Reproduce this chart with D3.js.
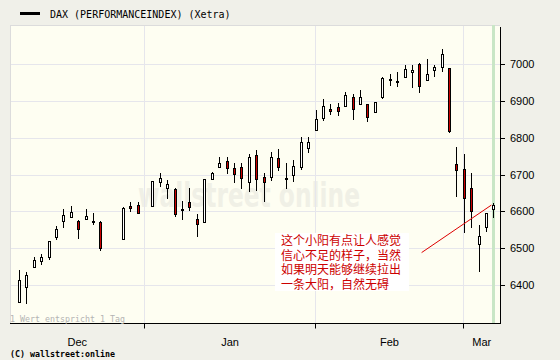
<!DOCTYPE html>
<html>
<head>
<meta charset="utf-8">
<script src="https://cdn.jsdelivr.net/npm/d3@7"></script>
<style>
  body { margin: 0; background: #f0f0e9; }
</style>
</head>
<body>
<div id="container"></div>
<script>
const dates = [
  "2006-12-07", "2006-12-08", "2006-12-11", "2006-12-12", "2006-12-13", "2006-12-14", "2006-12-15",
  "2006-12-18", "2006-12-19", "2006-12-20", "2006-12-21", "2006-12-22", "2006-12-27", "2006-12-28", "2006-12-29",
  "2007-01-02", "2007-01-03", "2007-01-04", "2007-01-05", "2007-01-08", "2007-01-09", "2007-01-10", "2007-01-11",
  "2007-01-12", "2007-01-15", "2007-01-16", "2007-01-17", "2007-01-18", "2007-01-19", "2007-01-22", "2007-01-23",
  "2007-01-24", "2007-01-25", "2007-01-26", "2007-01-29", "2007-01-30", "2007-01-31",
  "2007-02-01", "2007-02-02", "2007-02-05", "2007-02-06", "2007-02-07", "2007-02-08", "2007-02-09", "2007-02-12",
  "2007-02-13", "2007-02-14", "2007-02-15", "2007-02-16", "2007-02-19", "2007-02-20", "2007-02-21", "2007-02-22",
  "2007-02-23", "2007-02-26", "2007-02-27", "2007-02-28",
  "2007-03-01", "2007-03-02", "2007-03-05", "2007-03-06", "2007-03-07"
]
const open = [
  6355, 6394, 6448, 6464, 6477, 6530, 6573, 6585, 6574, 6578, 6573, 6571, 6524, 6614, 6616,
  6615, 6680, 6663, 6660, 6605, 6625, 6579, 6570, 6689, 6720, 6736, 6717, 6720, 6679, 6753, 6692,
  6692, 6744, 6690, 6700, 6720, 6771,
  6821, 6853, 6878, 6882, 6886, 6910, 6891, 6891, 6869, 6910, 6958, 6955, 6966, 6978, 7000, 6957,
  6985, 6991, 6988, 6729,
  6714, 6663, 6511, 6557, 6606
]
const high = [
  6441, 6435, 6477, 6484, 6520, 6560, 6606, 6615, 6577, 6606, 6596, 6574, 6611, 6626, 6626,
  6682, 6703, 6685, 6663, 6628, 6664, 6592, 6688, 6706, 6748, 6748, 6732, 6732, 6756, 6767, 6705,
  6761, 6770, 6730, 6739, 6802, 6803,
  6875, 6905, 6891, 6895, 6925, 6919, 6929, 6892, 6898, 6966, 6973, 6978, 6997, 6997, 7002, 7014,
  6997, 7041, 6989, 6774,
  6756, 6703, 6563, 6595, 6623
]
const low = [
  6353, 6349, 6445, 6455, 6469, 6521, 6556, 6582, 6524, 6577, 6562, 6493, 6523, 6599, 6594,
  6613, 6667, 6633, 6585, 6577, 6602, 6530, 6568, 6685, 6718, 6701, 6676, 6660, 6652, 6655, 6626,
  6682, 6710, 6660, 6680, 6711, 6758,
  6819, 6846, 6862, 6859, 6884, 6848, 6888, 6843, 6866, 6905, 6941, 6938, 6965, 6936, 6921, 6954,
  6964, 6979, 6814, 6640,
  6542, 6554, 6436, 6545, 6583
]
const close = [
  6414, 6426, 6468, 6475, 6519, 6551, 6589, 6597, 6551, 6587, 6573, 6501, 6608, 6610, 6595,
  6681, 6690, 6673, 6592, 6605, 6613, 6565, 6687, 6703, 6731, 6717, 6701, 6690, 6747, 6687, 6679,
  6747, 6720, 6690, 6724, 6787, 6787,
  6850, 6885, 6872, 6873, 6916, 6877, 6910, 6857, 6896, 6962, 6958, 6955, 6986, 6984, 6941, 6973,
  6991, 7027, 6819, 6712,
  6637, 6602, 6533, 6595, 6617
]
const yTicks = [6400, 6500, 6600, 6700, 6800, 6900, 7000]
const monthStarts = ["2007-01-01", "2007-02-01", "2007-03-01"]
const monthLabels = ["Dec", "Jan", "Feb", "Mar"]
// trend line, in weekday index / index points
const trendX = [37.24, 46.65]
const trendV = [6488, 6617]
const noteLines = [
  "这个小阳有点让人感觉",
  "信心不足的样子，当然",
  "如果明天能够继续拉出",
  "一条大阳，自然无碍"
]

// weekdays counted from Mon 2007-01-01 (holidays keep their slot)
function weekdayIndex (s) {
  const days = Math.round((new Date(s + "T00:00:00Z") - Date.UTC(2007, 0, 1)) / 864e5)
  const weeks = Math.floor(days / 7)
  return weeks * 5 + Math.min(days - weeks * 7, 5)
}

const plotLeft = 10, plotRight = 500, plotTop = 25, plotBottom = 323.5

const x = d3.scaleLinear().domain([-18.27, 47.81]).range([plotLeft, plotRight])
const y = d3.scaleLinear().domain([6400, 7000]).range([285, 64])

const svg = d3.select('#container').append('svg')
  .attr('width', 560)
  .attr('height', 360)
  .style('display', 'block')
  .style('background', '#f0f0e9')

svg.append('rect')
  .attr('x', plotLeft).attr('y', plotTop)
  .attr('width', plotRight - plotLeft).attr('height', plotBottom - plotTop)
  .attr('fill', '#fefef2')

// watermark
svg.append('text')
  .attr('x', 138).attr('y', 207)
  .attr('font-family', 'DejaVu Sans')
  .attr('font-weight', 'bold')
  .attr('font-size', 34)
  .attr('textLength', 222)
  .attr('lengthAdjust', 'spacingAndGlyphs')
  .attr('fill', '#f0f0e6')
  .text('wallstreet online')

// grid
svg.selectAll('.hgrid')
  .data(yTicks)
  .enter()
  .append('line')
  .attr('x1', plotLeft).attr('x2', plotRight)
  .attr('y1', d => Math.round(y(d)) + 0.5)
  .attr('y2', d => Math.round(y(d)) + 0.5)
  .attr('stroke', '#e6e6ec')

const monthX = monthStarts.map(d => Math.round(x(weekdayIndex(d) - 0.17)) + 0.5)

svg.selectAll('.vgrid')
  .data(monthX)
  .enter()
  .append('line')
  .attr('x1', d => d).attr('x2', d => d)
  .attr('y1', plotTop).attr('y2', plotBottom)
  .attr('stroke', '#e6e6ec')

svg.append('line')
  .attr('x1', plotLeft + 0.5).attr('x2', plotLeft + 0.5)
  .attr('y1', plotTop).attr('y2', plotBottom)
  .attr('stroke', '#dcdcdc')
svg.append('line')
  .attr('x1', plotLeft).attr('x2', plotRight)
  .attr('y1', plotTop + 0.5).attr('y2', plotTop + 0.5)
  .attr('stroke', '#dcdcdc')

// current day band
const lastX = x(weekdayIndex(dates[dates.length - 1]))
svg.append('rect')
  .attr('x', Math.floor(lastX) - 1).attr('y', plotTop)
  .attr('width', 3).attr('height', plotBottom - plotTop)
  .attr('fill', '#c9e6c6')

// candles
const candles = dates.map((d, i) => ({
  i: weekdayIndex(d), o: open[i], h: high[i], l: low[i], c: close[i]
}))

const g = svg.append('g')

g.selectAll('.wick')
  .data(candles)
  .enter()
  .append('line')
  .attr('x1', d => Math.floor(x(d.i)) + 0.5)
  .attr('x2', d => Math.floor(x(d.i)) + 0.5)
  .attr('y1', d => Math.round(y(d.h)))
  .attr('y2', d => Math.round(y(d.l)))
  .attr('stroke', '#000')

g.selectAll('.body')
  .data(candles)
  .enter()
  .append('rect')
  .attr('x', d => Math.floor(x(d.i)) - 0.5)
  .attr('width', 2)
  .attr('y', d => Math.round(y(Math.max(d.o, d.c))) + 0.5)
  .attr('height', d => Math.max(1, Math.round(y(Math.min(d.o, d.c))) - Math.round(y(Math.max(d.o, d.c)))))
  .attr('fill', d => d.c > d.o ? '#ffffff' : (d.c < d.o ? '#cc0000' : '#000'))
  .attr('stroke', '#000')

// trend line
svg.append('line')
  .attr('x1', x(trendX[0])).attr('y1', y(trendV[0]))
  .attr('x2', x(trendX[1])).attr('y2', y(trendV[1]))
  .attr('stroke', '#dd0000')
  .attr('stroke-width', 1)

// note
svg.append('rect')
  .attr('x', 275).attr('y', 233)
  .attr('width', 134).attr('height', 58)
  .attr('fill', '#ffffff')

svg.selectAll('.note')
  .data(noteLines)
  .enter()
  .append('text')
  .attr('x', 281)
  .attr('y', (d, i) => 245 + i * 14.5)
  .attr('font-family', 'Noto Sans CJK SC')
  .attr('font-size', 12)
  .attr('fill', '#cc0000')
  .text(d => d)

// axes
svg.append('line')
  .attr('x1', plotRight + 0.5).attr('x2', plotRight + 0.5)
  .attr('y1', 27).attr('y2', plotBottom + 0.5)
  .attr('stroke', '#000')
svg.append('line')
  .attr('x1', plotLeft).attr('x2', plotRight + 1)
  .attr('y1', plotBottom).attr('y2', plotBottom)
  .attr('stroke', '#000')

svg.selectAll('.ytick')
  .data(yTicks)
  .enter()
  .append('line')
  .attr('x1', plotRight).attr('x2', plotRight + 5)
  .attr('y1', d => Math.round(y(d)) + 0.5)
  .attr('y2', d => Math.round(y(d)) + 0.5)
  .attr('stroke', '#000')

svg.selectAll('.ylabel')
  .data(yTicks)
  .enter()
  .append('text')
  .attr('x', 510)
  .attr('y', d => y(d) + 4)
  .attr('font-family', 'Liberation Sans')
  .attr('font-size', 11)
  .attr('fill', '#000')
  .text(d => d)

svg.selectAll('.xtick')
  .data(monthX)
  .enter()
  .append('line')
  .attr('x1', d => d).attr('x2', d => d)
  .attr('y1', plotBottom).attr('y2', plotBottom + 5)
  .attr('stroke', '#000')

const edges = [plotLeft].concat(monthX).concat([plotRight])
svg.selectAll('.xlabel')
  .data(monthLabels)
  .enter()
  .append('text')
  .attr('x', (d, i) => (edges[i] + edges[i + 1]) / 2)
  .attr('y', 345.5)
  .attr('text-anchor', 'middle')
  .attr('font-family', 'Liberation Sans')
  .attr('font-size', 11)
  .attr('fill', '#000')
  .text(d => d)

// legend and footers
svg.append('rect')
  .attr('x', 20).attr('y', 12)
  .attr('width', 20).attr('height', 3)
  .attr('fill', '#000')
svg.append('text')
  .attr('x', 50).attr('y', 17.5)
  .attr('font-family', 'DejaVu Sans Mono')
  .attr('font-size', 10)
  .attr('fill', '#000')
  .text('DAX (PERFORMANCEINDEX) (Xetra)')

svg.append('text')
  .attr('x', 10).attr('y', 322)
  .attr('font-family', 'DejaVu Sans Mono')
  .attr('font-size', 8.3)
  .attr('fill', '#b4b4b4')
  .text('1 Wert entspricht 1 Tag')

svg.append('text')
  .attr('x', 10).attr('y', 357)
  .attr('font-family', 'DejaVu Sans Mono')
  .attr('font-size', 8.3)
  .attr('font-weight', 'bold')
  .attr('fill', '#000')
  .text('(C) wallstreet:online')
</script>
</body>
</html>
